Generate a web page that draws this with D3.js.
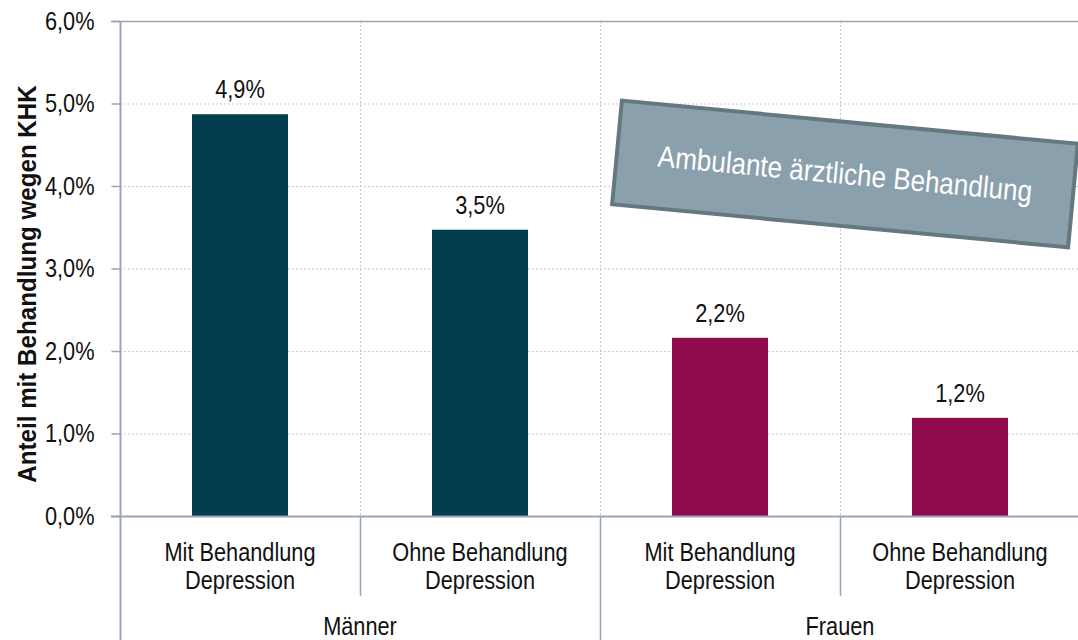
<!DOCTYPE html>
<html>
<head>
<meta charset="utf-8">
<script src="https://cdn.jsdelivr.net/npm/d3@7"></script>
<style>
  body { margin: 0; background: #fff; }
  svg { display: block; font-family: "Liberation Sans", Arial, sans-serif; }
</style>
</head>
<body>
<div class="main"></div>
<script>
// data
const groups = ["Männer", "Frauen"];
const categories = ["m1", "m2", "f1", "f2"];
const catLabels = [
    ["Mit Behandlung", "Depression"],
    ["Ohne Behandlung", "Depression"],
    ["Mit Behandlung", "Depression"],
    ["Ohne Behandlung", "Depression"]
];
const catGroup = ["Männer", "Männer", "Frauen", "Frauen"];
const values = [4.87, 3.47, 2.16, 1.19];
const valueLabels = ["4,9%", "3,5%", "2,2%", "1,2%"];
const yTicks = [0, 1, 2, 3, 4, 5, 6];
const yTitle = "Anteil mit Behandlung wegen KHK";
const boxText = "Ambulante ärztliche Behandlung";

const w = 1078;
const h = 640;
const plotLeft = 120;
const plotRight = 1080;
const plotTop = 21;
const plotBottom = 516;

const axisColor = "#9ba4b6";
const groupColor = { "Männer": "#023d50", "Frauen": "#8e0c4e" };
const fontSize = 25;
const narrow = 0.87; // the original font is a bit condensed

const svg = d3.select(".main").append("svg").attr("width", w).attr("height", h);

const xScale = d3.scaleBand().domain(categories).range([plotLeft, plotRight]).padding(0);
const gScale = d3.scaleBand().domain(groups).range([plotLeft, plotRight]).padding(0);
const yScale = d3.scaleLinear().domain([0, 6]).range([plotBottom, plotTop]);

const squeeze = (x, y) => `translate(${x},${y}) scale(${narrow},1)`;

// horizontal grid
svg.append("g")
    .selectAll("line")
    .data(yTicks.filter((t) => t > 0 && t < 6))
    .enter()
    .append("line")
    .attr("x1", plotLeft)
    .attr("x2", w)
    .attr("y1", (d) => yScale(d) + 0.5)
    .attr("y2", (d) => yScale(d) + 0.5)
    .attr("stroke", "#c9c9c9")
    .attr("stroke-dasharray", "2,2");

// vertical grid between categories
svg.append("g")
    .selectAll("line")
    .data(categories.slice(1))
    .enter()
    .append("line")
    .attr("x1", (d) => xScale(d) + 0.5)
    .attr("x2", (d) => xScale(d) + 0.5)
    .attr("y1", plotTop)
    .attr("y2", plotBottom)
    .attr("stroke", "#c9c9c9")
    .attr("stroke-dasharray", "2,2");

// top border at 6%
svg.append("line")
    .attr("x1", plotLeft - 9)
    .attr("x2", w)
    .attr("y1", yScale(6) + 0.5)
    .attr("y2", yScale(6) + 0.5)
    .attr("stroke", axisColor)
    .attr("stroke-width", 1.5);

// bars
svg.selectAll("rect.bar")
    .data(values)
    .enter()
    .append("rect")
    .attr("class", "bar")
    .attr("x", (d, i) => xScale(categories[i]) + xScale.bandwidth() * 0.3)
    .attr("width", xScale.bandwidth() * 0.4)
    .attr("y", (d) => yScale(d))
    .attr("height", (d) => yScale(0) - yScale(d))
    .attr("fill", (d, i) => groupColor[catGroup[i]]);

// value labels
svg.selectAll("text.val")
    .data(values)
    .enter()
    .append("text")
    .attr("class", "val")
    .attr("transform", (d, i) =>
        squeeze(xScale(categories[i]) + xScale.bandwidth() / 2, yScale(d) - 16))
    .attr("text-anchor", "middle")
    .attr("font-size", fontSize)
    .attr("fill", "#111")
    .text((d, i) => valueLabels[i]);

// y axis
const yAxis = d3.axisLeft(yScale)
    .tickValues(yTicks)
    .tickSize(9)
    .tickPadding(16)
    .tickFormat((d) => d3.format(".1f")(d).replace(".", ",") + "%");

const yG = svg.append("g")
    .attr("transform", `translate(${plotLeft + 0.5},0)`)
    .call(yAxis);
yG.select(".domain").remove();
yG.selectAll(".tick line").attr("stroke", axisColor).attr("stroke-width", 1.5);
yG.selectAll(".tick text")
    .attr("x", null)
    .attr("transform", squeeze(-26, 0))
    .attr("font-size", fontSize)
    .attr("font-family", "Liberation Sans, Arial, sans-serif")
    .attr("fill", "#111");

svg.append("line")
    .attr("x1", plotLeft + 0.5)
    .attr("x2", plotLeft + 0.5)
    .attr("y1", plotTop)
    .attr("y2", h)
    .attr("stroke", axisColor)
    .attr("stroke-width", 2);

// x axis line
svg.append("line")
    .attr("x1", plotLeft - 9)
    .attr("x2", w)
    .attr("y1", plotBottom + 0.5)
    .attr("y2", plotBottom + 0.5)
    .attr("stroke", axisColor)
    .attr("stroke-width", 2);

// category separators
svg.append("g")
    .selectAll("line")
    .data(categories.slice(1))
    .enter()
    .append("line")
    .attr("x1", (d) => xScale(d) + 0.5)
    .attr("x2", (d) => xScale(d) + 0.5)
    .attr("y1", plotBottom)
    .attr("y2", (d, i) => (catGroup[i] !== catGroup[i + 1] ? h : 596))
    .attr("stroke", axisColor)
    .attr("stroke-width", 1.5);

// category labels
svg.selectAll("g.cat")
    .data(catLabels)
    .enter()
    .append("g")
    .attr("class", "cat")
    .each(function (d, i) {
        d3.select(this)
            .selectAll("text")
            .data(d)
            .enter()
            .append("text")
            .attr("transform", (line, j) =>
                squeeze(xScale(categories[i]) + xScale.bandwidth() / 2, 561 + j * 28))
            .attr("text-anchor", "middle")
            .attr("font-size", fontSize)
            .attr("fill", "#111")
            .text((line) => line);
    });

// group labels
svg.selectAll("text.grp")
    .data(groups)
    .enter()
    .append("text")
    .attr("class", "grp")
    .attr("transform", (d) => squeeze(gScale(d) + gScale.bandwidth() / 2, 635))
    .attr("text-anchor", "middle")
    .attr("font-size", fontSize)
    .attr("fill", "#111")
    .text((d) => d);

// y title
svg.append("text")
    .attr("transform", `translate(36,284) rotate(-90) scale(0.93,1)`)
    .attr("text-anchor", "middle")
    .attr("font-size", 26)
    .attr("font-weight", "bold")
    .attr("fill", "#111")
    .text(yTitle);

// annotation box
const box = svg.append("g").attr("transform", "translate(845,174) rotate(5.4)");
box.append("rect")
    .attr("x", -229)
    .attr("y", -52)
    .attr("width", 458)
    .attr("height", 104)
    .attr("fill", "#8ba0ad")
    .attr("stroke", "#66787f")
    .attr("stroke-width", 4);
box.append("text")
    .attr("transform", squeeze(0, 10))
    .attr("text-anchor", "middle")
    .attr("font-size", 30)
    .attr("fill", "#fff")
    .text(boxText);
</script>
</body>
</html>
